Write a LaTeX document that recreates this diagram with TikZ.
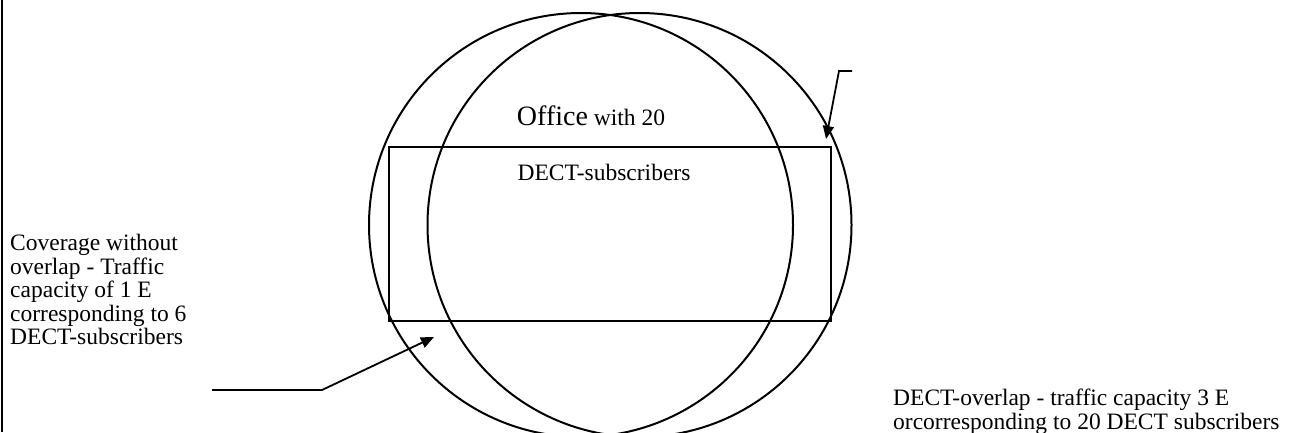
\documentclass[tikz,border=0pt]{standalone}
\usepackage{fontspec}
\setmainfont{Liberation Serif}
\usetikzlibrary{arrows.meta}
\tikzset{
  ring/.style={circle, draw, line width=2pt, minimum size=424pt, inner sep=0pt},
  pointer/.style={line width=1.8pt, -{Triangle[length=13pt,width=11pt]}},
  txt/.style={font=\fontsize{23.5}{23.5}\selectfont, inner sep=0pt, align=left},
}
\begin{document}
\begin{tikzpicture}[x=1pt,y=-1pt]
\useasboundingbox (0,0) rectangle (1292,432);
\draw[line width=2pt] (2,0) -- (2,432);
\node[ring] (c1) at (581,225) {};
\node[ring] (c2) at (639.5,225) {};
\node[draw, line width=2pt, minimum width=442pt, minimum height=174pt, inner sep=0pt] (office) at (610,234) {};
\node[txt, anchor=base] (officetxt) at (591,125) {{\fontsize{28}{30}\selectfont Office} with 20};
\node[txt, anchor=base] (subs) at (604,180) {DECT-subscribers};
\node[txt, anchor=north west] (left) at (10,234) {Coverage without\\overlap - Traffic\\capacity of 1 E\\corresponding to 6\\DECT-subscribers};
\node[txt, anchor=north west] (right) at (893,389) {DECT-overlap - traffic capacity 3 E\\orcorresponding to 20 DECT subscribers};
\coordinate (a1s) at (852,71);
\coordinate (a1k) at (839,71);
\coordinate (a1t) at (826,139);
\coordinate (a2s) at (212,390);
\coordinate (a2k) at (322,390);
\coordinate (a2t) at (434,337);
\draw[pointer] (a1s) -- (a1k) -- (a1t);
\draw[pointer] (a2s) -- (a2k) -- (a2t);
\end{tikzpicture}
\end{document}
